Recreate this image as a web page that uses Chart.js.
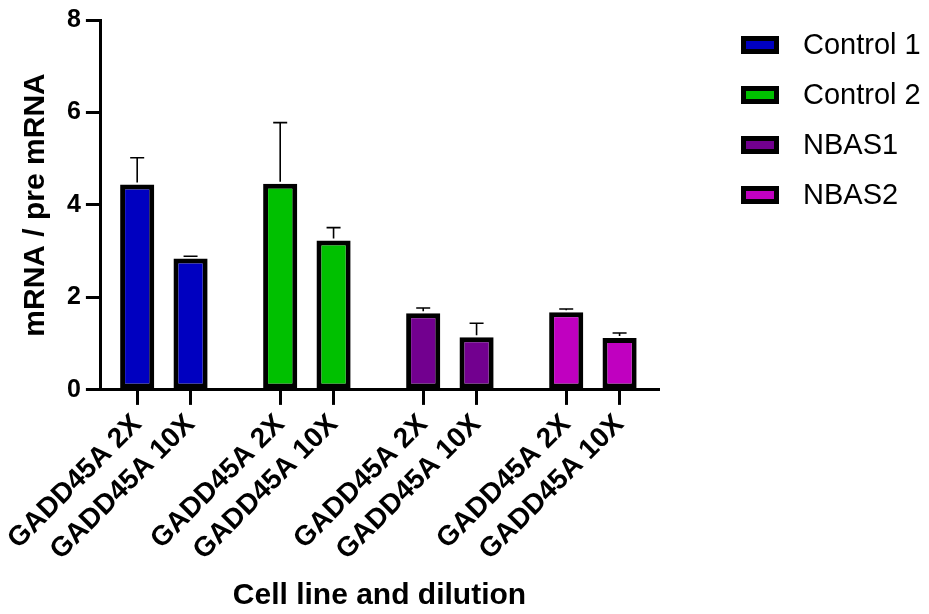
<!DOCTYPE html>
<html>
<head>
<meta charset="utf-8">
<script src="https://cdn.jsdelivr.net/npm/chart.js@4"></script>
<style>
  body { margin: 0; background: #fff; }
</style>
</head>
<body>
<canvas id="qpcrChart" width="929" height="614"></canvas>
<script>
const groups = ['Control 1', 'Control 2', 'NBAS1', 'NBAS2'];
const dilutions = ['GADD45A 2X', 'GADD45A 10X'];
const control1 = [4.44, 2.84];
const control2 = [4.46, 3.23];
const nbas1 = [1.66, 1.14];
const nbas2 = [1.68, 1.12];
const control1Err = [0.58, 0.05];
const control2Err = [1.32, 0.28];
const nbas1Err = [0.11, 0.30];
const nbas2Err = [0.07, 0.11];
const yTicks = [0, 2, 4, 6, 8];
const colors = ['#0000c0', '#00c000', '#72008f', '#c000c0'];

const values = [control1, control2, nbas1, nbas2];
const errors = [control1Err, control2Err, nbas1Err, nbas2Err];

// gap between groups, in bar slots
const groupGap = 0.68;
const slot = (g, k) => g * (dilutions.length + groupGap) + k;
const positions = [];
groups.forEach((g, gi) => dilutions.forEach((d, k) => positions.push(slot(gi, k))));

const font = 'Arial, "Liberation Sans", sans-serif';

const errorBars = {
    id: 'errorBars',
    afterDatasetsDraw(chart) {
        const c = chart.ctx;
        const y = chart.scales.y;
        c.save();
        c.strokeStyle = '#000';
        c.lineWidth = 1.6;
        chart.data.datasets.forEach((ds, i) => {
            const meta = chart.getDatasetMeta(i);
            meta.data.forEach((bar, j) => {
                const top = y.getPixelForValue(ds.data[j].y + ds.err[j]);
                c.beginPath();
                c.moveTo(bar.x, bar.y - 2);
                c.lineTo(bar.x, top);
                c.moveTo(bar.x - 7, top);
                c.lineTo(bar.x + 7, top);
                c.stroke();
            });
        });
        c.restore();
    }
};

// legend to the right of the plot, Prism style
const sideLegend = {
    id: 'sideLegend',
    afterDraw(chart) {
        const c = chart.ctx;
        const x0 = chart.chartArea.right + 83;
        c.save();
        c.font = '29px ' + font;
        c.textBaseline = 'middle';
        chart.data.datasets.forEach((ds, i) => {
            const cy = 45 + i * 50;
            c.fillStyle = '#000';
            c.fillRect(x0, cy - 9, 38, 18);
            c.fillStyle = ds.backgroundColor;
            c.fillRect(x0 + 5, cy - 4, 28, 8);
            c.fillStyle = '#000';
            c.fillText(ds.label, x0 + 62, cy + 1);
        });
        c.restore();
    }
};

new Chart(document.getElementById('qpcrChart'),
{
    type: 'bar',
    data:
    {
        datasets: groups.map((g, gi) => ({
            label: g,
            data: values[gi].map((v, k) => ({ x: slot(gi, k), y: v })),
            err: errors[gi],
            backgroundColor: colors[gi],
            borderColor: '#000',
            borderWidth: 5,
            borderSkipped: false,
            grouped: false,
            barPercentage: 0.64,
            categoryPercentage: 1
        }))
    },
    options:
    {
        responsive: false,
        animation: false,
        layout: { padding: { left: 14, right: 271, top: 8, bottom: 0 } },
        plugins:
        {
            tooltip: { enabled: false },
            legend: { display: false }
        },
        scales:
        {
            x:
            {
                type: 'linear',
                offset: false,
                min: -0.68,
                max: positions[positions.length - 1] + 0.72,
                afterBuildTicks: (scale) => {
                    scale.ticks = positions.map(v => ({ value: v }));
                },
                grid: { offset: false, drawOnChartArea: false, color: '#000', lineWidth: 3, tickLength: 15 },
                border: { color: '#000', width: 3 },
                ticks:
                {
                    autoSkip: false,
                    maxRotation: 45,
                    minRotation: 45,
                    padding: 3,
                    color: '#000',
                    font: { family: font, size: 28, weight: 'bold' },
                    callback: (v, i) => dilutions[i % dilutions.length]
                },
                title:
                {
                    display: true,
                    text: 'Cell line and dilution',
                    color: '#000',
                    font: { family: font, size: 30, weight: 'bold' },
                    padding: { top: 8, bottom: 0 }
                }
            },
            y:
            {
                min: 0,
                max: 8,
                afterBuildTicks: (scale) => {
                    scale.ticks = yTicks.map(v => ({ value: v }));
                },
                grid: { drawOnChartArea: false, color: '#000', lineWidth: 3, tickLength: 15 },
                border: { color: '#000', width: 3 },
                ticks:
                {
                    padding: 5,
                    color: '#000',
                    font: { family: font, size: 25, weight: 'bold' }
                },
                title:
                {
                    display: true,
                    text: 'mRNA / pre mRNA',
                    color: '#000',
                    font: { family: font, size: 30, weight: 'bold' },
                    padding: { bottom: 8 }
                }
            }
        }
    },
    plugins: [errorBars, sideLegend]
});
</script>
</body>
</html>
